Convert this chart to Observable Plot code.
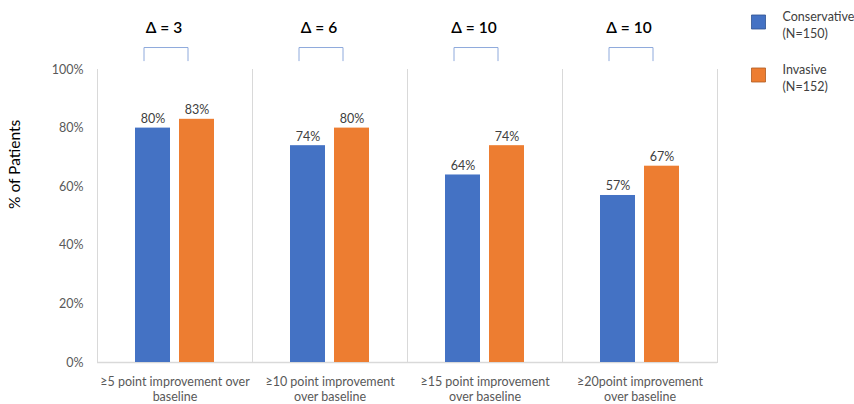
<!DOCTYPE html>
<html>
<head>
<meta charset="utf-8">
<script src="https://cdn.jsdelivr.net/npm/d3@7"></script>
<script src="https://cdn.jsdelivr.net/npm/@observablehq/plot@0.6"></script>
<style>
  html, body { margin: 0; padding: 0; background: #fff; }
  #chart { width: 854px; height: 404px; }
</style>
</head>
<body>
<div id="chart"></div>
<script>
// Share of patients reaching each improvement threshold, by treatment arm
const categories = [
  "≥5 point improvement over\nbaseline",
  "≥10 point improvement\nover baseline",
  "≥15 point improvement\nover baseline",
  "≥20point improvement\nover baseline"
];
const groups = ["Conservative", "Invasive"];
const groupLabels = ["Conservative\n(N=150)", "Invasive\n(N=152)"];
const conservative = [80, 74, 64, 57];
const invasive = [83, 80, 74, 67];
const deltas = [3, 6, 10, 10];
const yTicks = [0, 20, 40, 60, 80, 100];
const colors = ["#4472c4", "#ed7d31"];

const rows = categories.flatMap((c, i) => [
  {category: c, group: groups[0], value: conservative[i]},
  {category: c, group: groups[1], value: invasive[i]}
]);

// Bracket joining the two bars of each category, with the difference above it
const bracketFoot = 103, bracketTop = 107.5;
const bracketRows = categories.flatMap(c => [
  {category: c, group: groups[0], y: bracketFoot},
  {category: c, group: groups[0], y: bracketTop},
  {category: c, group: groups[1], y: bracketTop},
  {category: c, group: groups[1], y: bracketFoot}
]);
const deltaRows = categories.map((c, i) => ({category: c, delta: deltas[i]}));

const lastCategory = categories[categories.length - 1];
const legendMarks = groups.flatMap((g, i) => [
  Plot.dot([g], {
    fx: () => lastCategory, frameAnchor: "top-right", dx: 41, dy: -47.5 + i * 53,
    symbol: "square", r: 7.9, fill: colors[i], stroke: i === 0 ? "#2f528f" : "#ae5a21", strokeWidth: 0.8
  }),
  Plot.text([groupLabels[i]], {
    fx: () => lastCategory, frameAnchor: "top-right", dx: 65, dy: -61 + i * 53,
    textAnchor: "start", lineAnchor: "top", lineHeight: 1.38, fontSize: 12.5, fill: "#404040"
  })
]);

const chart = Plot.plot({
  width: 854,
  height: 404,
  marginTop: 69,
  marginBottom: 42,
  marginLeft: 97,
  marginRight: 137,
  style: {fontFamily: "Lato, 'Open Sans', sans-serif", fontSize: "12.5px", color: "#595959", background: "#fff"},
  fx: {domain: categories, padding: 0, label: null, axis: null},
  x: {domain: groups, paddingInner: 0.2045, paddingOuter: 0.8636, axis: null},
  y: {domain: [0, 100], axis: null},
  color: {domain: groups, range: colors},
  marks: [
    Plot.frame({anchor: "left", stroke: "#d9d9d9", strokeOpacity: 1}),
    Plot.frame({anchor: "right", stroke: "#d9d9d9", strokeOpacity: 1}),
    Plot.ruleY([0], {stroke: "#d9d9d9", strokeWidth: 1.5}),
    Plot.barY(rows, {fx: "category", x: "group", y: "value", fill: "group"}),
    Plot.text(rows, {
      fx: "category", x: "group", y: "value", text: d => d.value + "%",
      lineAnchor: "bottom", dy: -5, fill: "#404040", fontSize: 12.5
    }),
    Plot.line(bracketRows, {
      fx: "category", x: "group", y: "y", z: "category", dx: -9,
      stroke: "#8faadc", strokeWidth: 1
    }),
    Plot.text(deltaRows, {
      fx: "category", text: d => "Δ = " + d.delta, frameAnchor: "top", lineAnchor: "middle",
      dy: -41, dx: -11, fontSize: 15.5, fontWeight: 600, fill: "#000"
    }),
    Plot.axisY({
      ticks: yTicks, tickFormat: d => d + "%", tickSize: 0, tickPadding: 14,
      label: null, fill: "#595959", fontSize: 12.5
    }),
    Plot.axisFx({
      anchor: "bottom", tickSize: 0, tickPadding: 12, label: null, lineHeight: 1.25,
      fill: "#595959", fontSize: 12.5
    }),
    Plot.text(["% of Patients"], {
      fx: () => categories[0], frameAnchor: "left", rotate: -90, dx: -82, dy: -7,
      fontSize: 15.5, fill: "#000"
    }),
    ...legendMarks
  ]
});

document.getElementById("chart").append(chart);
</script>
</body>
</html>
